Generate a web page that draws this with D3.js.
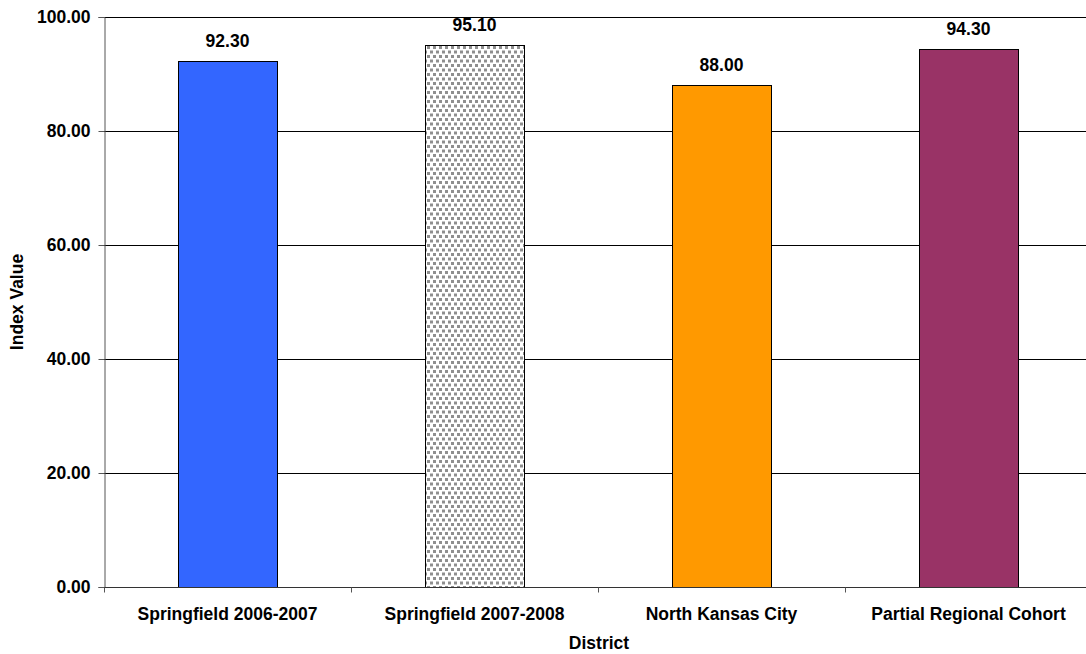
<!DOCTYPE html>
<html>
<head>
<meta charset="utf-8">
<script src="https://cdn.jsdelivr.net/npm/d3@7"></script>
<style>
  html, body { margin: 0; padding: 0; background: #fff; }
  text { font-family: "Liberation Sans", Arial, sans-serif; font-weight: bold; }
</style>
</head>
<body>
<div id="chart"></div>
<script>
// data
var districts = ['Springfield 2006-2007', 'Springfield 2007-2008', 'North Kansas City', 'Partial Regional Cohort'];
var values = [92.30, 95.10, 88.00, 94.30];
var fills = ['#3366ff', 'url(#dots)', '#ff9900', '#993366'];
var yTicks = [0, 20, 40, 60, 80, 100];

var W = 1086, H = 654;
var mLeft = 104, mTop = 17, mBottom = 587, mRight = 1092;
var fs = '17.5px';

var svg = d3.select('#chart').append('svg')
  .attr('width', W).attr('height', H);

// dotted fill for the second bar
var pat = svg.append('defs').append('pattern')
  .attr('id', 'dots')
  .attr('patternUnits', 'userSpaceOnUse')
  .attr('width', 6).attr('height', 9);
pat.append('rect').attr('width', 6).attr('height', 9).attr('fill', '#fff');
pat.append('rect').attr('x', 1).attr('y', 1).attr('width', 3).attr('height', 3).attr('fill', '#8f8f8f');
pat.append('rect').attr('x', 4).attr('y', 5.5).attr('width', 3).attr('height', 3).attr('fill', '#8f8f8f');
pat.append('rect').attr('x', -2).attr('y', 5.5).attr('width', 3).attr('height', 3).attr('fill', '#8f8f8f');

var x = d3.scaleBand()
  .domain(districts)
  .range([mLeft, mRight])
  .paddingInner(0.6)
  .paddingOuter(0.3);

var y = d3.scaleLinear()
  .domain([0, 100])
  .range([mBottom, mTop]);

// gridlines
svg.append('g')
  .selectAll('line')
  .data(yTicks.slice(1))
  .enter()
  .append('line')
  .attr('x1', mLeft).attr('x2', W)
  .attr('y1', function(d) { return Math.round(y(d)) + 0.5; })
  .attr('y2', function(d) { return Math.round(y(d)) + 0.5; })
  .attr('stroke', '#000')
  .attr('stroke-width', 1);

// bars
svg.append('g')
  .selectAll('rect')
  .data(values)
  .enter()
  .append('rect')
  .attr('x', function(d, i) { return Math.round(x(districts[i])) + 0.5; })
  .attr('y', function(d) { return Math.round(y(d)) + 0.5; })
  .attr('width', Math.round(x.bandwidth()))
  .attr('height', function(d) { return Math.round(mBottom - y(d)); })
  .attr('fill', function(d, i) { return fills[i]; })
  .attr('stroke', '#000')
  .attr('stroke-width', 1);

// value labels
svg.append('g')
  .selectAll('text')
  .data(values)
  .enter()
  .append('text')
  .attr('x', function(d, i) { return x(districts[i]) + x.bandwidth() / 2; })
  .attr('y', function(d) { return y(d) - 14; })
  .attr('text-anchor', 'middle')
  .style('font-size', fs)
  .text(function(d) { return d.toFixed(2); });

// y axis
var yAxis = svg.append('g')
  .attr('transform', 'translate(' + (mLeft + 0.5) + ',0)')
  .call(d3.axisLeft(y).tickValues(yTicks).tickSize(6).tickPadding(8)
    .tickFormat(function(d) { return d.toFixed(2); }));
yAxis.select('.domain').attr('stroke', '#555');
yAxis.selectAll('.tick line').attr('stroke', '#555');
yAxis.selectAll('.tick text').style('font-size', fs).attr('fill', '#000');

// x axis
var band = (mRight - mLeft) / districts.length;
var xAxis = svg.append('g')
  .attr('transform', 'translate(0,' + (mBottom + 0.5) + ')');
xAxis.append('line')
  .attr('x1', mLeft).attr('x2', W)
  .attr('stroke', '#333');
xAxis.selectAll('.sep')
  .data(d3.range(districts.length))
  .enter()
  .append('line')
  .attr('class', 'sep')
  .attr('x1', function(i) { return Math.round(mLeft + band * i) + 0.5; })
  .attr('x2', function(i) { return Math.round(mLeft + band * i) + 0.5; })
  .attr('y1', 0).attr('y2', 5)
  .attr('stroke', '#555');
xAxis.selectAll('.lbl')
  .data(districts)
  .enter()
  .append('text')
  .attr('class', 'lbl')
  .attr('x', function(d) { return x(d) + x.bandwidth() / 2; })
  .attr('y', 32)
  .attr('text-anchor', 'middle')
  .style('font-size', fs)
  .text(function(d) { return d; });

// axis titles
svg.append('text')
  .attr('x', 599).attr('y', 649)
  .attr('text-anchor', 'middle')
  .style('font-size', fs)
  .text('District');

svg.append('text')
  .attr('transform', 'translate(23,302) rotate(-90)')
  .attr('text-anchor', 'middle')
  .style('font-size', fs)
  .text('Index Value');
</script>
</body>
</html>
